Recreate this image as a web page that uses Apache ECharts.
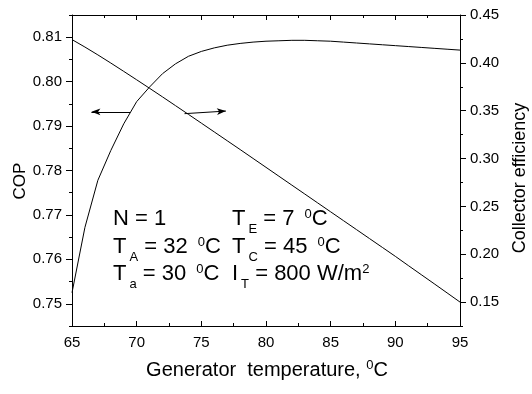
<!doctype html>
<html lang="en">
<head>
    <meta charset="UTF-8">
    <title>COP and collector efficiency</title>
    <style>
        html, body { margin: 0; padding: 0; background: #fff; }
        #chart { width: 532px; height: 394px; }
    </style>
</head>
<body>
    <div id="chart"></div>

    <script src="https://cdn.jsdelivr.net/npm/echarts@6/dist/echarts.min.js"></script>
    <script>
        // generator temperature, degC
        var temps = [65, 66, 67, 68, 69, 70, 71, 72, 73, 74, 75, 76, 77, 78, 79, 80,
                     81, 82, 83, 84, 85, 86, 87, 88, 89, 90, 91, 92, 93, 94, 95];
        // COP (left axis)
        var cop = [0.7525, 0.7672, 0.7778, 0.7845, 0.7905, 0.7955, 0.7988, 0.8018, 0.8040, 0.8057,
                   0.8068, 0.8076, 0.8082, 0.8086, 0.8089, 0.8091, 0.8092, 0.8093, 0.8093, 0.8092,
                   0.8091, 0.8089, 0.8087, 0.8085, 0.8083, 0.8081, 0.8079, 0.8077, 0.8075, 0.8073, 0.8071];
        // collector efficiency (right axis)
        var eff = [0.4243, 0.4165, 0.4083, 0.3998, 0.3911, 0.3823, 0.3734, 0.3644, 0.3553, 0.3462,
                   0.3370, 0.3278, 0.3186, 0.3094, 0.3001, 0.2908, 0.2815, 0.2722, 0.2629, 0.2536,
                   0.2443, 0.2350, 0.2257, 0.2164, 0.2071, 0.1978, 0.1882, 0.1787, 0.1692, 0.1596, 0.1500];

        var copTicks = [0.75, 0.76, 0.77, 0.78, 0.79, 0.80, 0.81];
        var effTicks = [0.15, 0.20, 0.25, 0.30, 0.35, 0.40, 0.45];

        // arrows: [from, to] in data units
        var copArrow = [[69.5, 0.7932], [66.5, 0.7932]];
        var effArrow = [[73.7, 0.3469], [76.9, 0.3496]];

        var FONT = 'Liberation Sans, Arial, sans-serif';
        var black = '#000';

        var chart = echarts.init(document.getElementById('chart'));

        function pairs(xs, ys) {
            return xs.map(function (x, i) { return [x, ys[i]]; });
        }

        function xAx(pos) {
            return {
                type: 'value', position: pos, min: 65, max: 95, interval: 5,
                axisLine: { show: true, onZero: false, lineStyle: { color: black, width: 1 } },
                axisTick: { show: true, inside: true, length: 5, lineStyle: { color: black } },
                minorTick: { show: true, splitNumber: 2, length: 3, lineStyle: { color: black } },
                axisLabel: { show: pos == 'bottom', margin: 9, fontSize: 15, color: black, fontFamily: FONT },
                splitLine: { show: false }
            };
        }

        // base axes carry the line and the short ticks, overlay axes the long ticks + labels
        function yBase(pos, min, max, step) {
            return {
                type: 'value', position: pos, min: min, max: max, interval: step,
                axisLine: { show: true, onZero: false, lineStyle: { color: black, width: 1 } },
                axisTick: { show: true, length: 3, lineStyle: { color: black } },
                axisLabel: { show: false },
                splitLine: { show: false }
            };
        }
        function yMajor(pos, min, max, ticks) {
            return {
                type: 'value', position: pos, min: min, max: max,
                axisLine: { show: false },
                axisTick: { show: true, length: 6, customValues: ticks, lineStyle: { color: black } },
                axisLabel: {
                    show: true, customValues: ticks, margin: 10, fontSize: 15, color: black, fontFamily: FONT,
                    formatter: function (v) { return v.toFixed(2); }
                },
                splitLine: { show: false }
            };
        }

        function arrowLine(a) {
            return {
                silent: true, animation: false,
                symbol: ['none', 'arrow'], symbolSize: [5, 9],
                label: { show: false },
                lineStyle: { color: black, width: 1, type: 'solid' },
                emphasis: { disabled: true },
                data: [[{ coord: a[0] }, { coord: a[1] }]]
            };
        }

        var rich = {
            sub: { fontSize: 13, lineHeight: 4, verticalAlign: 'bottom', padding: [0, 0, 0, 3], fontFamily: FONT },
            sup: { fontSize: 13, lineHeight: 13, verticalAlign: 'middle', padding: [0, 0, 9, 0], fontFamily: FONT },
            deg: { fontSize: 13, lineHeight: 13, verticalAlign: 'middle', padding: [0, 0, 9, 4], fontFamily: FONT }
        };
        function note(x, y, txt) {
            return {
                type: 'text', x: x, y: y,
                style: {
                    text: txt, fill: black, fontSize: 22, lineHeight: 34, fontFamily: FONT,
                    align: 'left', verticalAlign: 'top', rich: rich
                }
            };
        }

        var option = {
            animation: false,
            grid: { left: 72, right: 72, top: 15, bottom: 68 },
            xAxis: [xAx('bottom'), xAx('top')],
            yAxis: [
                yBase('left', 0.745, 0.815, 0.005),
                yBase('right', 0.125, 0.45, 0.025),
                yMajor('left', 0.745, 0.815, copTicks),
                yMajor('right', 0.125, 0.45, effTicks)
            ],
            series: [
                {
                    name: 'COP', type: 'line', xAxisIndex: 0, yAxisIndex: 0,
                    data: pairs(temps, cop), symbol: 'none',
                    lineStyle: { color: black, width: 1 },
                    markLine: arrowLine(copArrow)
                },
                {
                    name: 'Collector efficiency', type: 'line', xAxisIndex: 0, yAxisIndex: 1,
                    data: pairs(temps, eff), symbol: 'none',
                    lineStyle: { color: black, width: 1 },
                    markLine: arrowLine(effArrow)
                }
            ],
            graphic: [
                note(113, 202, 'N = 1'),
                note(113, 229.5, 'T{sub|A} = 32 {deg|0}C'),
                note(113, 257, 'T{sub|a} = 30 {deg|0}C'),
                note(232, 202, 'T{sub|E} = 7 {deg|0}C'),
                note(232, 229.5, 'T{sub|C} = 45 {deg|0}C'),
                note(232, 257, 'I{sub|T} = 800 W/m{sup|2}'),
                {
                    type: 'text', x: 267, y: 353,
                    style: {
                        text: 'Generator  temperature, {sup|0}C', fill: black, fontSize: 20, lineHeight: 34,
                        fontFamily: FONT, align: 'center', verticalAlign: 'top', rich: rich
                    }
                },
                {
                    type: 'text', x: 20, y: 181, rotation: Math.PI / 2,
                    style: {
                        text: 'COP', fill: black, fontSize: 17, fontFamily: FONT,
                        align: 'center', verticalAlign: 'middle'
                    }
                },
                {
                    type: 'text', x: 520, y: 178, rotation: Math.PI / 2,
                    style: {
                        text: 'Collector efficiency', fill: black, fontSize: 18, fontFamily: FONT,
                        align: 'center', verticalAlign: 'middle'
                    }
                }
            ]
        };

        chart.setOption(option);
    </script>
</body>
</html>
